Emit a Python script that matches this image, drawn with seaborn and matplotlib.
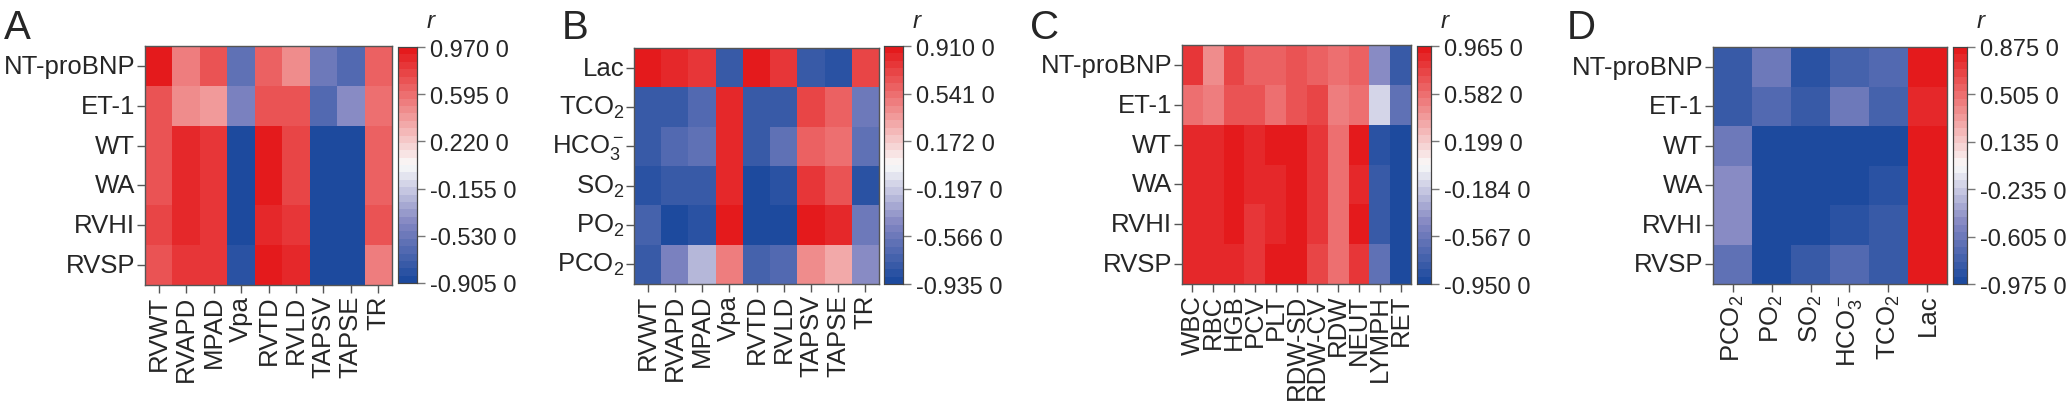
import matplotlib
matplotlib.use('Agg')
import matplotlib.pyplot as plt
import seaborn as sns
import numpy as np
import pandas as pd
from matplotlib.colors import LinearSegmentedColormap

sns.set_style('white')
plt.rcParams['font.family'] = ['Liberation Sans', 'DejaVu Sans']
plt.rcParams['mathtext.default'] = 'regular'

# panel A: cardiac markers vs echo/haemodynamic params
rows_a = ['NT-proBNP', 'ET-1', 'WT', 'WA', 'RVHI', 'RVSP']
cols_a = ['RVWT', 'RVAPD', 'MPAD', 'Vpa', 'RVTD', 'RVLD', 'TAPSV', 'TAPSE', 'TR']
vals_a = [
    [0.95, 0.55, 0.70, -0.60, 0.65, 0.50, -0.50, -0.65, 0.65],
    [0.70, 0.45, 0.40, -0.48, 0.70, 0.70, -0.65, -0.42, 0.60],
    [0.70, 0.90, 0.82, -0.90, 0.95, 0.76, -0.90, -0.85, 0.65],
    [0.70, 0.90, 0.85, -0.90, 0.95, 0.78, -0.90, -0.88, 0.65],
    [0.78, 0.90, 0.85, -0.90, 0.88, 0.80, -0.90, -0.85, 0.72],
    [0.70, 0.82, 0.85, -0.82, 0.95, 0.88, -0.90, -0.85, 0.55],
]
range_a = (-0.905, 0.970)

# panel B: blood gas vs echo/haemodynamic params
rows_b = ['Lac', r'TCO$_2$', r'HCO$_3^-$', r'SO$_2$', r'PO$_2$', r'PCO$_2$']
cols_b = cols_a
vals_b = [
    [0.90, 0.85, 0.78, -0.80, 0.86, 0.78, -0.80, -0.83, 0.72],
    [-0.80, -0.80, -0.70, 0.80, -0.80, -0.80, 0.70, 0.62, -0.55],
    [-0.80, -0.70, -0.62, 0.80, -0.80, -0.60, 0.62, 0.55, -0.60],
    [-0.85, -0.78, -0.78, 0.80, -0.90, -0.85, 0.75, 0.66, -0.85],
    [-0.72, -0.92, -0.82, 0.88, -0.92, -0.92, 0.88, 0.82, -0.58],
    [-0.80, -0.52, -0.30, 0.45, -0.72, -0.68, 0.40, 0.32, -0.45],
]
range_b = (-0.935, 0.910)

# panel C: cardiac markers vs blood routine
rows_c = rows_a
cols_c = ['WBC', 'RBC', 'HGB', 'PCV', 'PLT', 'RDW-SD', 'RDW-CV', 'RDW', 'NEUT', 'LYMPH', 'RET']
vals_c = [
    [0.82, 0.45, 0.75, 0.65, 0.65, 0.72, 0.65, 0.55, 0.65, -0.45, -0.80],
    [0.60, 0.50, 0.72, 0.72, 0.55, 0.72, 0.75, 0.50, 0.55, -0.15, -0.60],
    [0.90, 0.88, 0.95, 0.88, 0.92, 0.95, 0.80, 0.55, 0.92, -0.85, -0.92],
    [0.90, 0.88, 0.95, 0.85, 0.90, 0.95, 0.80, 0.55, 0.85, -0.80, -0.92],
    [0.90, 0.88, 0.93, 0.82, 0.88, 0.95, 0.80, 0.55, 0.92, -0.82, -0.92],
    [0.90, 0.85, 0.88, 0.80, 0.95, 0.95, 0.78, 0.55, 0.80, -0.62, -0.92],
]
range_c = (-0.950, 0.965)

# panel D: cardiac markers vs blood gas
rows_d = rows_a
cols_d = [r'PCO$_2$', r'PO$_2$', r'SO$_2$', r'HCO$_3^-$', r'TCO$_2$', 'Lac']
vals_d = [
    [-0.82, -0.62, -0.88, -0.78, -0.70, 0.87],
    [-0.82, -0.72, -0.82, -0.60, -0.78, 0.78],
    [-0.62, -0.95, -0.92, -0.92, -0.92, 0.87],
    [-0.50, -0.95, -0.92, -0.92, -0.90, 0.87],
    [-0.50, -0.95, -0.92, -0.90, -0.85, 0.87],
    [-0.65, -0.95, -0.85, -0.72, -0.82, 0.87],
]
range_d = (-0.975, 0.875)

W, H = 2067, 402
cmap = LinearSegmentedColormap.from_list(
    'bwr_r', [(0, '#1d4a9e'), (0.25, '#8487c2'), (0.5, '#fafafa'),
              (0.75, '#ef8888'), (1, '#e41a1c')], N=32)


def px_axes(fig, x0, y0, x1, y1):
    return fig.add_axes([x0 / W, 1 - y1 / H, (x1 - x0) / W, (y1 - y0) / H])


def draw_panel(fig, letter, rows, cols, vals, vrange, hm_box, cb_box, letter_x):
    ax = px_axes(fig, *hm_box)
    cax = px_axes(fig, *cb_box)
    df = pd.DataFrame(vals, index=rows, columns=cols)
    vmin, vmax = vrange
    sns.heatmap(df, ax=ax, cbar_ax=cax, cmap=cmap, vmin=vmin, vmax=vmax,
                linewidths=0)
    for s in ax.spines.values():
        s.set_visible(True)
        s.set_color('#555555')
        s.set_linewidth(1.0)
    ax.tick_params(axis='both', length=6, width=1, color='#555555',
                   labelsize=18.5, pad=1, bottom=True, left=True)
    ax.set_xticklabels(cols, rotation=90)
    ax.set_yticklabels(rows, rotation=0)
    ax.set_xlabel('')
    ax.set_ylabel('')

    ticks = np.linspace(vmin, vmax, 6)
    cax.set_yticks(ticks)
    cax.set_yticklabels([f'{t:.3f} 0' for t in ticks])
    cax.tick_params(length=6, width=1, color='#777777', labelsize=17, pad=3)
    for s in cax.spines.values():
        s.set_visible(True)
        s.set_color('#444444')
        s.set_linewidth(0.8)
    cb_x1 = cb_box[2]
    fig.text((cb_x1 + 10) / W, 1 - 22 / H, 'r', fontsize=17.5, style='italic',
             ha='left', va='center')
    fig.text(letter_x / W, 1 - 39 / H, letter, fontsize=29, ha='left',
             va='baseline')


fig = plt.figure(figsize=(W / 100, H / 100), dpi=100)
draw_panel(fig, 'A', rows_a, cols_a, vals_a, range_a,
           (145, 47, 392, 286), (398, 48, 417, 284), 4)
draw_panel(fig, 'B', rows_b, cols_b, vals_b, range_b,
           (634, 49, 879, 285), (884, 47, 903, 285), 562)
draw_panel(fig, 'C', rows_c, cols_c, vals_c, range_c,
           (1182, 46, 1411, 285), (1417, 47, 1431, 285), 1030)
draw_panel(fig, 'D', rows_d, cols_d, vals_d, range_d,
           (1713, 48, 1947, 285), (1953, 48, 1967, 285), 1567)

fig.savefig('out.png', dpi=100)
